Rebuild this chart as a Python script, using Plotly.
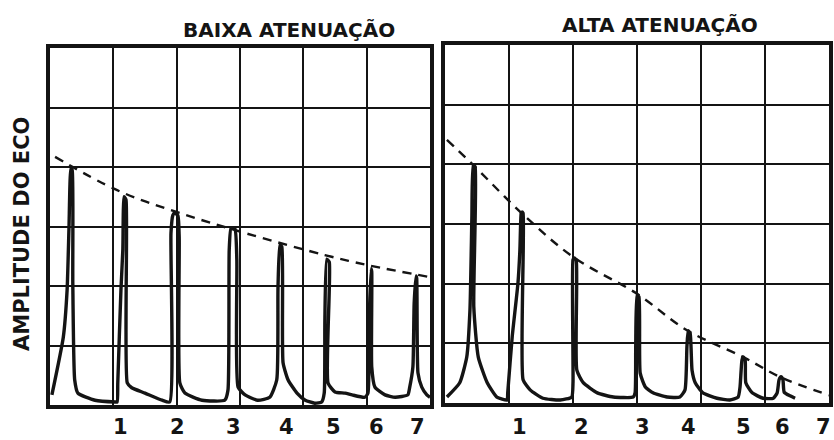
import plotly.graph_objects as go

# ---------------- data ----------------
titles = ["BAIXA ATENUAÇÃO", "ALTA ATENUAÇÃO"]
y_title = "AMPLITUDE DO ECO"
tick_labels = ["1", "2", "3", "4", "5", "6", "7"]

# echo label positions (x, in grid units)
low_tick_pos = [1.11, 2.02, 2.89, 3.74, 4.47, 5.16, 5.80]
high_tick_pos = [1.17, 2.14, 3.08, 3.80, 4.66, 5.28, 5.91]

# A-scan trace, low attenuation (x, y in grid units)
low_x = [0.03, 0.21, 0.27, 0.30, 0.33, 0.35, 0.36, 0.39, 0.44, 0.71, 1.03,
         1.06, 1.07, 1.12, 1.15, 1.17, 1.20, 1.22, 1.29, 1.50, 1.77, 1.89,
         1.91, 1.94, 1.97, 2.02, 2.04, 2.05, 2.13, 2.40, 2.76, 2.81,
         2.83, 2.86, 2.92, 2.95, 2.97, 3.08, 3.28, 3.47, 3.58,
         3.60, 3.63, 3.66, 3.68, 3.76, 3.90, 4.03, 4.18, 4.29,
         4.33, 4.34, 4.37, 4.41, 4.39, 4.50, 4.66, 4.77, 4.97,
         5.02, 5.04, 5.07, 5.08, 5.08, 5.13, 5.29, 5.45, 5.65,
         5.68, 5.73, 5.75, 5.78, 5.79, 5.81, 5.87, 5.95, 6.00]
low_y = [0.17, 1.14, 1.93, 2.99, 3.98, 3.95, 2.05, 0.42, 0.20, 0.08, 0.05,
         0.05, 0.37, 1.93, 2.61, 3.50, 3.45, 0.37, 0.29, 0.20, 0.08, 0.05,
         2.89, 3.19, 3.23, 3.18, 2.82, 0.37, 0.20, 0.08, 0.08, 0.25,
         2.61, 2.98, 2.96, 2.44, 0.30, 0.17, 0.08, 0.13, 0.42,
         1.98, 2.69, 2.66, 0.71, 0.42, 0.20, 0.08, 0.03, 0.05,
         0.20, 1.43, 2.45, 2.40, 0.37, 0.22, 0.20, 0.17, 0.13,
         0.20, 1.43, 2.29, 2.24, 0.64, 0.30, 0.17, 0.13, 0.17,
         0.30, 0.64, 1.71, 2.17, 2.13, 0.54, 0.30, 0.17, 0.13]

# A-scan trace, high attenuation
high_x = [0.03, 0.23, 0.34, 0.39, 0.42, 0.44, 0.47, 0.45, 0.52, 0.66, 0.81, 0.97,
          0.98, 1.05, 1.14, 1.17, 1.19, 1.20, 1.22, 1.22, 1.33, 1.53, 1.80, 1.98,
          2.00, 2.00, 2.02, 2.05, 2.06, 2.16, 2.38, 2.63, 2.94,
          2.97, 2.98, 3.00, 3.03, 3.05, 3.13, 3.25, 3.47, 3.67, 3.75,
          3.78, 3.80, 3.83, 3.86, 3.91, 4.03, 4.25, 4.45, 4.58,
          4.61, 4.64, 4.66, 4.69, 4.70, 4.80, 4.97, 5.13,
          5.19, 5.22, 5.25, 5.28, 5.30, 5.39, 5.47]
high_y = [0.10, 0.34, 0.77, 1.56, 3.12, 3.99, 3.96, 1.61, 0.77, 0.34, 0.10, 0.05,
          0.17, 1.11, 2.01, 2.56, 3.18, 3.20, 3.18, 0.39, 0.22, 0.08, 0.05, 0.10,
          0.34, 2.40, 2.43, 2.40, 0.55, 0.34, 0.17, 0.10, 0.10,
          0.17, 0.94, 1.81, 1.78, 0.50, 0.27, 0.17, 0.10, 0.10, 0.22,
          0.94, 1.21, 1.17, 0.55, 0.34, 0.17, 0.08, 0.05, 0.10,
          0.27, 0.72, 0.77, 0.72, 0.34, 0.17, 0.08, 0.08,
          0.17, 0.39, 0.44, 0.39, 0.18, 0.12, 0.08]

# dashed envelopes through the echo peaks
low_env_x = [0.08, 1.06, 2.01, 3.08, 4.34, 5.02, 6.00]
low_env_y = [4.17, 3.61, 3.24, 2.89, 2.52, 2.35, 2.15]
high_env_x = [0.03, 0.44, 1.20, 2.00, 3.00, 3.78, 4.66, 5.23, 6.00]
high_env_y = [4.41, 3.99, 3.18, 2.45, 1.83, 1.22, 0.77, 0.44, 0.13]

# ---------------- figure ----------------
INK = "#141414"
FONT = "DejaVu Sans"

fig = go.Figure()
for xa, ya, wx, wy, ex, ey in [
    ("x", "y", low_x, low_y, low_env_x, low_env_y),
    ("x2", "y2", high_x, high_y, high_env_x, high_env_y),
]:
    fig.add_trace(go.Scatter(x=wx, y=wy, xaxis=xa, yaxis=ya, mode="lines",
                             line=dict(color=INK, width=3.4, shape="spline", smoothing=0.5),
                             hoverinfo="skip", showlegend=False))
    fig.add_trace(go.Scatter(x=ex, y=ey, xaxis=xa, yaxis=ya, mode="lines",
                             line=dict(color=INK, width=2.4, dash="9px,7px", shape="spline"),
                             hoverinfo="skip", showlegend=False))

axis_style = dict(range=[0, 6], dtick=1, tick0=0, showgrid=True, gridcolor=INK,
                  gridwidth=1.6, showline=True, linecolor=INK, linewidth=3.5,
                  mirror=True, zeroline=False, showticklabels=False, ticks="",
                  fixedrange=True)

fig.update_layout(
    width=834, height=440,
    margin=dict(l=0, r=0, t=0, b=0),
    paper_bgcolor="white", plot_bgcolor="white",
    xaxis=dict(axis_style, domain=[50 / 834, 430 / 834], anchor="y"),
    yaxis=dict(axis_style, domain=[35 / 440, 392 / 440], anchor="x"),
    xaxis2=dict(axis_style, domain=[445 / 834, 829 / 834], anchor="y2"),
    yaxis2=dict(axis_style, domain=[37 / 440, 395 / 440], anchor="x2"),
)

ann = []
ann.append(dict(text=titles[0], x=289 / 834, y=(440 - 30) / 440, xref="paper", yref="paper",
                showarrow=False, xanchor="center", yanchor="middle",
                font=dict(family=FONT, size=20, color=INK, weight="bold")))
ann.append(dict(text=titles[1], x=660 / 834, y=(440 - 25) / 440, xref="paper", yref="paper",
                showarrow=False, xanchor="center", yanchor="middle",
                font=dict(family=FONT, size=20, color=INK, weight="bold")))
ann.append(dict(text=y_title, x=22 / 834, y=(440 - 234) / 440, xref="paper", yref="paper",
                textangle=-90, showarrow=False, xanchor="center", yanchor="middle",
                font=dict(family=FONT, size=21, color=INK, weight="bold")))
for xr, pos in [("x", low_tick_pos), ("x2", high_tick_pos)]:
    for p, t in zip(pos, tick_labels):
        ann.append(dict(text=t, x=p, y=13 / 440, xref=xr, yref="paper",
                        showarrow=False, xanchor="center", yanchor="middle",
                        font=dict(family=FONT, size=21, color=INK, weight="bold")))
fig.update_layout(annotations=ann)

fig.write_html("out.html")
